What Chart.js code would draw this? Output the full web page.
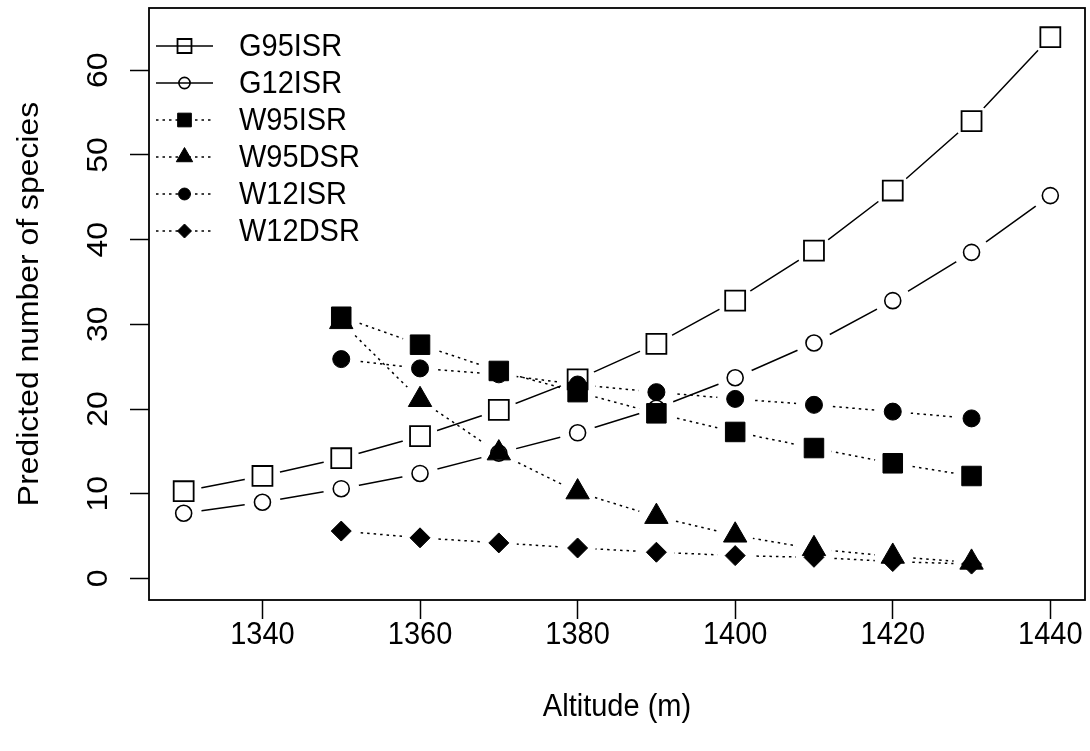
<!DOCTYPE html>
<html><head><meta charset="utf-8">
<script src="https://cdn.jsdelivr.net/npm/chart.js@4/dist/chart.umd.min.js"></script>
<style>html,body{margin:0;padding:0;background:#fff;} #wrap{width:1090px;height:751px;position:relative;}</style>
</head><body><div id="wrap"><canvas id="c" width="1090" height="751"></canvas></div>
<script>
const altitudesG = [1330,1340,1350,1360,1370,1380,1390,1400,1410,1420,1430,1440];
const altitudesW = [1350,1360,1370,1380,1390,1400,1410,1420,1430];
const G95ISR = [10.3,12.1,14.2,16.8,19.9,23.5,27.7,32.8,38.7,45.8,54.0,63.9];
const G12ISR = [7.7,9.0,10.6,12.4,14.8,17.2,20.1,23.7,27.8,32.8,38.5,45.2];
const W95ISR = [30.9,27.6,24.5,22.0,19.5,17.3,15.4,13.6,12.1];
const W95DSR = [30.3,21.1,14.8,10.2,7.3,5.1,3.5,2.6,1.9];
const W12ISR = [25.9,24.8,24.1,22.9,22.0,21.2,20.5,19.7,18.9];
const W12DSR = [5.6,4.8,4.2,3.6,3.1,2.7,2.5,2.0,1.7];
const seriesNames = ['G95ISR','G12ISR','W95ISR','W95DSR','W12ISR','W12DSR'];
const xTicks = [1340,1360,1380,1400,1420,1440];
const yTicks = [0,10,20,30,40,50,60];
const xTitle = 'Altitude (m)';
const yTitle = 'Predicted number of species';

const FONT = "'Liberation Sans', Arial, sans-serif";
const FS = 29;
const TEXT_STRETCH = 1.1;
const GAP = 18;

function pts(xs, ys){ return xs.map((x,i)=>({x:x, y:ys[i]})); }

const CLEAR = 'rgba(0,0,0,0)';
const styles = [
  {pointStyle:'rect', radius:14.1, fill:CLEAR, dash:[], bw:1.8},
  {pointStyle:'circle', radius:8, fill:CLEAR, dash:[], bw:1.6},
  {pointStyle:'rect', radius:13.8, fill:'#000000', dash:[2.5,4], bw:1},
  {pointStyle:'triangle', radius:13.5, fill:'#000000', dash:[2.5,4], bw:1},
  {pointStyle:'circle', radius:8.5, fill:'#000000', dash:[2.5,4], bw:1},
  {pointStyle:'rectRot', radius:10, fill:'#000000', dash:[2.5,4], bw:1}
];
const allY = [G95ISR,G12ISR,W95ISR,W95DSR,W12ISR,W12DSR];
const allX = [altitudesG,altitudesG,altitudesW,altitudesW,altitudesW,altitudesW];

const datasets = [];
seriesNames.forEach((name,i)=>{
  datasets.push({
    label: name, role:'line', series:i,
    data: pts(allX[i], allY[i]),
    borderColor:'#000', borderWidth:1.5, borderDash: styles[i].dash,
    pointRadius:0, pointHoverRadius:0, showLine:true, fill:false, tension:0,
    order: 100 - 2*i
  });
  datasets.push({
    label: name, role:'points', series:i,
    data: pts(allX[i], allY[i]),
    showLine:false,
    borderColor:'#000',
    pointStyle: styles[i].pointStyle,
    pointRadius: styles[i].radius,
    pointHoverRadius: styles[i].radius,
    pointBackgroundColor: styles[i].fill,
    pointBorderColor:'#000',
    pointBorderWidth: styles[i].bw,
    order: 99 - 2*i
  });
});

// the reference's lettering is slightly tall/narrow: stretch glyphs vertically around their anchor
const canvas = document.getElementById('c');
const c2d = canvas.getContext('2d');
c2d.fillText = function(t, x, y, mw){
  const m = this.getTransform();
  const dy = m.b*x + m.d*y + m.f;
  this.save();
  this.setTransform(1,0,0,TEXT_STRETCH,0,dy*(1-TEXT_STRETCH));
  this.transform(m.a,m.b,m.c,m.d,m.e,m.f);
  if (mw === undefined || mw === null) CanvasRenderingContext2D.prototype.fillText.call(this,t,x,y);
  else CanvasRenderingContext2D.prototype.fillText.call(this,t,x,y,mw);
  this.restore();
};

const gapPlugin = {
  id:'gaps',
  beforeDatasetDraw(chart, args){
    const ds = chart.data.datasets[args.index];
    if (ds.role !== 'line') return;
    const ctx = chart.ctx;
    ctx.save();
    ctx.beginPath();
    ctx.rect(0,0,chart.width,chart.height);
    args.meta.data.forEach(p=>{
      ctx.moveTo(p.x + GAP, p.y);
      ctx.arc(p.x, p.y, GAP, 0, Math.PI*2, true);
    });
    ctx.clip('evenodd');
  },
  afterDatasetDraw(chart, args){
    const ds = chart.data.datasets[args.index];
    if (ds.role !== 'line') return;
    chart.ctx.restore();
  }
};

const boxPlugin = {
  id:'box',
  afterDatasetsDraw(chart){
    const {ctx, chartArea:a} = chart;
    ctx.save();
    ctx.strokeStyle='#000'; ctx.lineWidth=1.8;
    ctx.strokeRect(a.left, a.top, a.right-a.left, a.bottom-a.top);
    ctx.restore();
  }
};

const legendPlugin = {
  id:'rlegend',
  afterDatasetsDraw(chart){
    const ctx = chart.ctx;
    ctx.save();
    chart.data.datasets.filter(d=>d.role==='points').forEach((ds,i)=>{
      const lineDs = chart.data.datasets.find(d=>d.role==='line' && d.series===ds.series);
      const y = 46 + i*37;
      ctx.strokeStyle='#000'; ctx.lineWidth=1.5;
      ctx.setLineDash(lineDs.borderDash||[]);
      ctx.beginPath(); ctx.moveTo(156,y); ctx.lineTo(213,y); ctx.stroke();
      ctx.setLineDash([]);
      ctx.fillStyle = ds.pointBackgroundColor;
      ctx.strokeStyle='#000'; ctx.lineWidth = ds.pointBorderWidth;
      Chart.helpers.drawPoint(ctx, {pointStyle: ds.pointStyle, radius: ds.pointRadius*0.7, borderWidth: ds.pointBorderWidth, rotation:0}, 184.5, y);
      ctx.fillStyle='#000';
      ctx.font = FS + 'px ' + FONT;
      ctx.textBaseline='middle'; ctx.textAlign='left';
      ctx.fillText(ds.label, 239, y+1);
    });
    ctx.restore();
  }
};

function noPad(s){ s.paddingTop = 0; s.paddingBottom = 0; s.paddingLeft = 0; s.paddingRight = 0; }

new Chart(canvas, {
  type:'line',
  data:{datasets},
  options:{
    responsive:false,
    animation:false,
    events:[],
    layout:{autoPadding:false, padding:{left:0, right:5, top:8, bottom:0}},
    plugins:{legend:{display:false}, tooltip:{enabled:false}},
    scales:{
      x:{
        type:'linear', min:1325.6, max:1444.4,
        afterBuildTicks(s){ s.ticks = xTicks.map(v=>({value:v})); },
        afterFit(s){ s.height = 151; noPad(s); },
        grid:{drawOnChartArea:false, drawTicks:true, tickLength:19, tickColor:'#000', tickWidth:1.5},
        border:{display:false},
        ticks:{color:'#000', font:{family:FONT, size:FS}, padding:-1, maxRotation:0, autoSkip:false, callback:v=>String(v)},
        title:{display:true, text:xTitle, color:'#000', font:{family:FONT, size:FS}, padding:{top:0,bottom:26}}
      },
      y:{
        type:'linear', min:-2.54, max:67.35,
        afterBuildTicks(s){ s.ticks = yTicks.map(v=>({value:v})); },
        afterFit(s){ s.width = 149; noPad(s); },
        grid:{drawOnChartArea:false, drawTicks:true, tickLength:19, tickColor:'#000', tickWidth:1.5},
        border:{display:false},
        ticks:{color:'#000', font:{family:FONT, size:FS}, padding:15, minRotation:90, maxRotation:90, crossAlign:'center', autoSkip:false, callback:v=>String(v)},
        title:{display:true, text:yTitle, color:'#000', font:{family:FONT, size:FS}, padding:{top:13,bottom:0}}
      }
    }
  },
  plugins:[gapPlugin, boxPlugin, legendPlugin]
});
</script></body></html>
